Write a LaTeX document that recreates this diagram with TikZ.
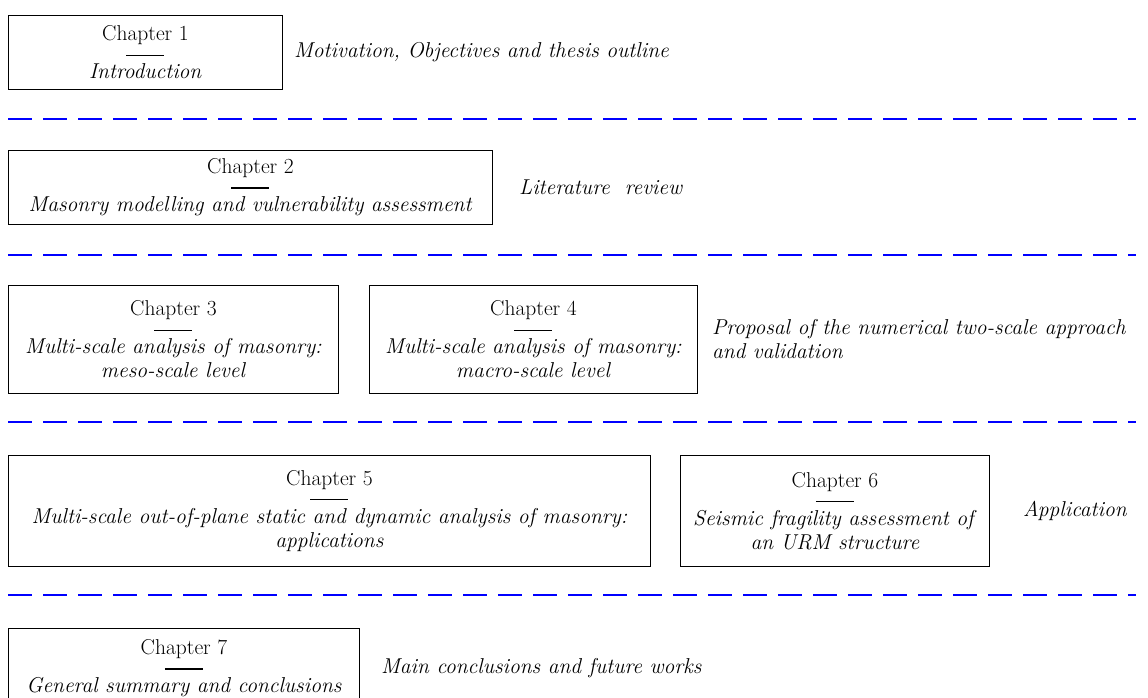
\documentclass[tikz,border=0pt]{standalone}
\usepackage{tikz}
\usetikzlibrary{positioning}
\newcommand{\chapbar}{\rule{38pt}{1.3pt}}
\tikzset{
  chapbox/.style={draw, line width=0.9pt, align=center, inner sep=0pt, anchor=north west,
    font=\fontsize{21.5}{24}\selectfont},
  remark/.style={align=left, inner sep=0pt, font=\fontsize{21.5}{24}\selectfont\itshape},
  sepline/.style={blue, line width=1.5pt, dash pattern=on 24pt off 11pt},
}
\begin{document}
\begin{tikzpicture}[x=1pt,y=-1pt]
  \useasboundingbox (0,0) rectangle (1148,698);
  % chapters
  \node[chapbox, minimum width=274pt, minimum height=74pt] (ch1) at (8,15)
    {Chapter 1\\[-9pt]\chapbar\\[-1pt]\textit{Introduction}};
  \node[chapbox, minimum width=484pt, minimum height=74pt] (ch2) at (8,150)
    {Chapter 2\\[-9pt]\chapbar\\[-1pt]\textit{Masonry modelling and vulnerability assessment}};
  \node[chapbox, minimum width=330pt, minimum height=108pt] (ch3) at (8,285)
    {Chapter 3\\[-9pt]\chapbar\\[-1pt]\textit{Multi-scale analysis of masonry:}\\\textit{meso-scale level}};
  \node[chapbox, minimum width=328pt, minimum height=108pt] (ch4) at (369,285)
    {Chapter 4\\[-9pt]\chapbar\\[-1pt]\textit{Multi-scale analysis of masonry:}\\\textit{macro-scale level}};
  \node[chapbox, minimum width=642pt, minimum height=111pt] (ch5) at (8,455)
    {Chapter 5\\[-9pt]\chapbar\\[-1pt]\textit{Multi-scale out-of-plane static and dynamic analysis of masonry:}\\\textit{applications}};
  \node[chapbox, minimum width=309pt, minimum height=111pt] (ch6) at (680,455)
    {Chapter 6\\[-9pt]\chapbar\\[-1pt]\textit{Seismic fragility assessment of}\\\textit{an URM structure}};
  \node[chapbox, minimum width=351pt, minimum height=80pt] (ch7) at (8,628)
    {Chapter 7\\[-9pt]\chapbar\\[-1pt]\textit{General summary and conclusions}};
  % remarks
  \node[remark, right=11pt of ch1] (r1) {Motivation, Objectives and thesis outline};
  \node[remark, right=26pt of ch2] (r2) {Literature\ \ review};
  \node[remark, right=14pt of ch4] (r3) {Proposal of the numerical two-scale approach\\and validation};
  \node[remark, right=33pt of ch6] (r4) {Application};
  \node[remark, right=21pt of ch7] (r5) {Main conclusions and future works};
  % separators
  \foreach \y in {119,255,422,595}
    \draw[sepline] (8,\y) -- (1136,\y);
\end{tikzpicture}
\end{document}
